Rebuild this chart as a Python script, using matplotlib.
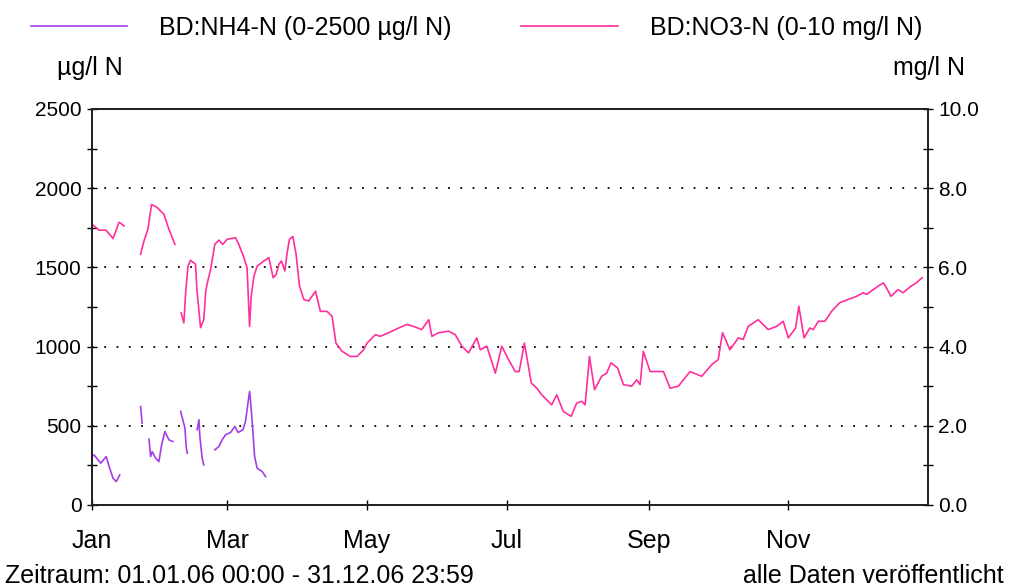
import matplotlib
matplotlib.use("Agg")
import matplotlib.pyplot as plt
from matplotlib.ticker import MultipleLocator, FixedLocator, FormatStrFormatter
import numpy as np

plt.rcParams['font.family'] = ['Liberation Sans', 'DejaVu Sans']

# day of year 2006 / value, None = gap in the record
nh4_days = [0, 0.9, 3.8, 6.2, 7.7, 9.2, 10.6, 12.1, None,
            21.2, 21.9, None,
            24.9, 25.6, 26.3, 27.8, 29.2, 30.4, 31.8, 33.6, 35.3, None,
            38.7, 40.6, 41.1, 41.6, None,
            45.9, 46.7, 47.1, 48.1, 48.8, None,
            53.6, 55.4, 56.8, 58.3, 60.5, 62.4, 63.8, 65.9, 67.0, 67.7, 68.8,
            69.3, 70.2, 71.0, 72.1, 74.3, 75.8]
nh4_vals = [306, 316, 264, 306, 232, 169, 148, 190, None,
            622, 517, None,
            416, 306, 337, 296, 274, 380, 464, 411, 401, None,
            591, 485, 369, 327, None,
            475, 538, 432, 296, 253, None,
            348, 369, 411, 443, 458, 496, 458, 475, 527, 601, 717,
            644, 475, 306, 232, 211, 179]

no3_days = [0.0, 3.1, 6.1, 9.2, 11.8, 14.0, None,
            21.2, 22.7, 24.4, 26.0, 28.3, 31.4, 33.6, 34.8, 36.2, None,
            38.9, 40.1, 40.9, 41.9, 43.0, 45.2, 45.8, 47.4, 48.8, 49.6, 50.2,
            51.8, 53.6, 55.4, 57.1, 59.0, 62.7, 64.1, 66.3, 67.7, 68.8, 69.5,
            70.7, 72.1, 74.3, 77.2, 79.1, 80.4, 81.6, 82.7, 84.2, 85.2, 86.2,
            87.7, 89.1, 90.6, 92.5, 94.6, 97.6, 99.7, 102.6, 104.8, 106.5,
            109.2, 112.8, 115.7, 118.6, 120.1, 123.7, 125.9, 129.5, 133.9,
            137.5, 140.4, 144.0, 147.0, 148.4, 151.3, 155.7, 158.6, 161.5,
            164.4, 168.0, 169.5, 172.4, 176.1, 178.9, 181.9, 184.8, 186.5,
            188.8, 191.8, 194.2, 196.4, 200.7, 202.9, 205.8, 209.2, 211.6,
            213.8, 215.3, 217.2, 219.4, 222.5, 224.7, 226.6, 229.5, 232.0,
            235.6, 237.8, 239.3, 240.7, 243.7, 249.5, 252.4, 256.0, 261.1,
            266.2, 270.5, 273.4, 275.3, 278.5, 282.2, 284.3, 286.5, 290.9,
            295.2, 298.9, 301.8, 304.0, 307.2, 308.6, 310.9, 313.4, 314.9,
            317.1, 320.0, 322.9, 326.5, 330.2, 333.8, 336.7, 338.2, 341.1,
            343.3, 345.5, 346.8, 348.8, 350.5, 351.9, 354.1, 357.7, 359.9, 362.4]
no3_vals = [7.09, 6.94, 6.94, 6.73, 7.14, 7.05, None,
            6.33, 6.67, 6.96, 7.59, 7.52, 7.34, 6.96, 6.79, 6.58, None,
            4.85, 4.60, 5.37, 6.03, 6.18, 6.08, 5.44, 4.48, 4.68, 5.36, 5.57,
            5.95, 6.58, 6.69, 6.58, 6.71, 6.75, 6.58, 6.25, 5.99, 4.51, 5.27,
            5.78, 6.03, 6.13, 6.25, 5.74, 5.82, 6.08, 6.16, 5.91, 6.37, 6.71,
            6.78, 6.33, 5.53, 5.19, 5.15, 5.40, 4.89, 4.89, 4.77, 4.09,
            3.88, 3.75, 3.75, 3.92, 4.09, 4.30, 4.26, 4.35, 4.47,
            4.56, 4.51, 4.43, 4.68, 4.26, 4.35, 4.39, 4.30, 4.01,
            3.84, 4.22, 3.92, 4.01, 3.33, 4.01, 3.67, 3.37, 3.37,
            4.09, 3.08, 2.95, 2.78, 2.53, 2.78, 2.36, 2.24, 2.57,
            2.62, 2.53, 3.75, 2.91, 3.25, 3.33, 3.59, 3.46, 3.04,
            3.00, 3.16, 3.04, 3.88, 3.37, 3.37, 2.95, 3.00, 3.37,
            3.25, 3.54, 3.67, 4.35, 3.92, 4.22, 4.18, 4.51, 4.68,
            4.43, 4.51, 4.64, 4.22, 4.47, 5.02, 4.22, 4.47, 4.43,
            4.64, 4.64, 4.89, 5.11, 5.19, 5.27, 5.36, 5.32, 5.44,
            5.53, 5.61, 5.49, 5.27, 5.36, 5.44, 5.36, 5.53, 5.61, 5.74]

month_days = [0, 59, 120, 181, 243, 304]
month_labels = ['Jan', 'Mar', 'May', 'Jul', 'Sep', 'Nov']

nh4_label = 'BD:NH4-N (0-2500 \u00b5g/l N)'
no3_label = 'BD:NO3-N (0-10 mg/l N)'
purple = '#a23ee6'
pink = '#ff2f9c'


def arr(v):
    return np.array([np.nan if a is None else a for a in v], dtype=float)


fig = plt.figure(figsize=(10.1, 5.88), dpi=100)
ax = fig.add_axes([92 / 1010, 83 / 588, 836 / 1010, 396 / 588])
ax2 = ax.twinx()

l1, = ax.plot(arr(nh4_days), arr(nh4_vals), color=purple, lw=1.2)
l2, = ax2.plot(arr(no3_days), arr(no3_vals), color=pink, lw=1.2)

ax.set_xlim(0, 365)
ax.set_ylim(0, 2500)
ax2.set_ylim(0, 10)

ax.yaxis.set_major_locator(MultipleLocator(500))
ax.yaxis.set_minor_locator(MultipleLocator(250))
ax2.yaxis.set_major_locator(MultipleLocator(2))
ax2.yaxis.set_minor_locator(MultipleLocator(1))
ax2.yaxis.set_major_formatter(FormatStrFormatter('%.1f'))
ax.xaxis.set_major_locator(FixedLocator(month_days))
ax.set_xticklabels(month_labels)

for a in (ax, ax2):
    for s in a.spines.values():
        s.set_linewidth(1.3)
        s.set_color('#222222')

ax.tick_params(axis='y', which='both', direction='inout', length=7, width=1,
               labelsize=15, pad=4, right=False)
ax2.tick_params(axis='y', which='both', direction='inout', length=7, width=1,
                labelsize=15, pad=4)
ax.tick_params(axis='x', direction='inout', length=7, width=1, labelsize=18, pad=14)

for v in [500, 1000, 1500, 2000]:
    ax.axhline(v, color='black', lw=1.3, ls=(0, (1, 5.8)), zorder=0)

fig.legend([l1, l2], [nh4_label, no3_label], loc='upper left',
           bbox_to_anchor=(8 / 1010, 1.011), ncol=2, frameon=False, fontsize=18,
           handlelength=3.85, handletextpad=1.28, columnspacing=2.8)

fig.text(57 / 1010, 1 - 68 / 588, '\u00b5g/l N', fontsize=18, va='center', ha='left')
fig.text(965 / 1010, 1 - 68 / 588, 'mg/l N', fontsize=18, va='center', ha='right')
fig.text(5 / 1010, 1 - 576 / 588, 'Zeitraum: 01.01.06 00:00 - 31.12.06 23:59',
         fontsize=18, va='center', ha='left')
fig.text(1004 / 1010, 1 - 576 / 588, 'alle Daten ver\u00f6ffentlicht',
         fontsize=18, va='center', ha='right')

fig.savefig('out.png', dpi=100)
